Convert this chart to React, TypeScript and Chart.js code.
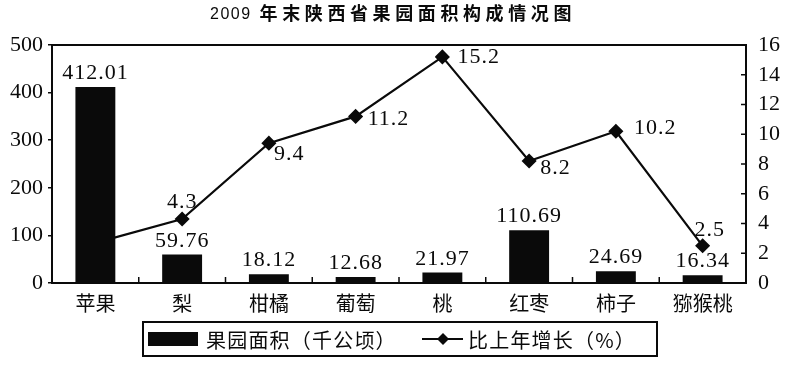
import React, { useEffect, useRef } from 'react';
import { Chart, registerables } from 'chart.js';

Chart.register(...registerables);

// ---- data ----
const titleNumber = '2009';
const titleText = '年末陕西省果园面积构成情况图';
const categories = ['苹果', '梨', '柑橘', '葡萄', '桃', '红枣', '柿子', '猕猴桃'];
const areaValues = [412.01, 59.76, 18.12, 12.68, 21.97, 110.69, 24.69, 16.34];
const areaLabels = ['412.01', '59.76', '18.12', '12.68', '21.97', '110.69', '24.69', '16.34'];
const growthValues = [2.7, 4.3, 9.4, 11.2, 15.2, 8.2, 10.2, 2.5];
const growthLabels = ['', '4.3', '9.4', '11.2', '15.2', '8.2', '10.2', '2.5'];
const legendLabels = ['果园面积（千公顷）', '比上年增长（%）'];
const leftAxis = { min: 0, max: 500, step: 100 };
const rightAxis = { min: 0, max: 16, step: 2 };

// ---- styles (label placement relative to markers) ----
const growthLabelPlacement: [number, number, CanvasTextAlign][] = [
  [0, 0, 'center'],
  [0, -17, 'center'],
  [5, 11, 'left'],
  [12, 3, 'left'],
  [15, 0, 'left'],
  [11, 7, 'left'],
  [18, -3, 'left'],
  [7, -16, 'center'],
];

const SERIF = '"Liberation Serif", "Times New Roman", serif';
const CJK = '"Noto Sans CJK SC", "Noto Sans", sans-serif';
const INK = '#0a0a0a';

const overlayPlugin = {
  id: 'overlay',
  afterDraw(chart: any) {
    const ctx: CanvasRenderingContext2D = chart.ctx;
    const area = chart.chartArea;
    const xs = chart.scales.x;
    const y1 = chart.scales.y1;
    ctx.save();

    // title
    ctx.fillStyle = INK;
    ctx.textBaseline = 'alphabetic';
    ctx.textAlign = 'left';
    (ctx as any).letterSpacing = '1.5px';
    ctx.font = '16px "Liberation Sans", sans-serif';
    const numW = ctx.measureText(titleNumber).width;
    (ctx as any).letterSpacing = '4.6px';
    ctx.font = 'bold 18px ' + CJK;
    const txtW = ctx.measureText(titleText).width;
    const gap = 8;
    const total = numW + gap + txtW;
    let tx = 393 - total / 2;
    (ctx as any).letterSpacing = '1.5px';
    ctx.font = '16px "Liberation Sans", sans-serif';
    ctx.fillText(titleNumber, tx, 19);
    tx += numW + gap;
    (ctx as any).letterSpacing = '4.6px';
    ctx.font = 'bold 18px ' + CJK;
    ctx.fillText(titleText, tx, 20);

    // frame
    ctx.strokeStyle = INK;
    ctx.lineWidth = 2;
    ctx.strokeRect(area.left, area.top, area.right - area.left, area.bottom - area.top);

    // x inner ticks at category boundaries
    ctx.lineWidth = 1.5;
    ctx.beginPath();
    for (let i = 1; i < categories.length; i++) {
      const x = (xs.getPixelForTick(i - 1) + xs.getPixelForTick(i)) / 2;
      ctx.moveTo(x, area.bottom);
      ctx.lineTo(x, area.bottom - 6);
    }
    // right axis inner ticks
    for (let v = rightAxis.min; v <= rightAxis.max; v += rightAxis.step) {
      const y = y1.getPixelForValue(v);
      ctx.moveTo(area.right, y);
      ctx.lineTo(area.right - 5, y);
    }
    ctx.stroke();

    // bar labels
    (ctx as any).letterSpacing = '1px';
    ctx.font = '22px ' + SERIF;
    ctx.textAlign = 'center';
    ctx.textBaseline = 'alphabetic';
    const barMeta = chart.getDatasetMeta(0);
    barMeta.data.forEach((el: any, i: number) => {
      ctx.fillText(areaLabels[i], el.x, el.y - 8);
    });

    // line labels
    ctx.textBaseline = 'middle';
    const lineMeta = chart.getDatasetMeta(1);
    lineMeta.data.forEach((el: any, i: number) => {
      const label = growthLabels[i];
      if (!label) return;
      const [dx, dy, align] = growthLabelPlacement[i];
      ctx.textAlign = align;
      ctx.fillText(label, el.x + dx, el.y + dy);
    });

    // legend
    const lx0 = 143, lx1 = 657, ly0 = 322, ly1 = 356;
    const ly = (ly0 + ly1) / 2;
    ctx.lineWidth = 2;
    ctx.strokeRect(lx0, ly0, lx1 - lx0, ly1 - ly0);
    ctx.fillStyle = INK;
    ctx.fillRect(148, ly - 7, 50, 14);
    (ctx as any).letterSpacing = '1.2px';
    ctx.font = '20px ' + CJK;
    ctx.textAlign = 'left';
    ctx.textBaseline = 'middle';
    ctx.fillText(legendLabels[0], 206, ly + 1);
    ctx.lineWidth = 2;
    ctx.beginPath();
    ctx.moveTo(422, ly);
    ctx.lineTo(463, ly);
    ctx.stroke();
    ctx.beginPath();
    ctx.moveTo(443, ly - 6);
    ctx.lineTo(449, ly);
    ctx.lineTo(443, ly + 6);
    ctx.lineTo(437, ly);
    ctx.closePath();
    ctx.fill();
    ctx.fillText(legendLabels[1], 468, ly + 1);

    ctx.restore();
  },
};

export default function App() {
  const ref = useRef<HTMLCanvasElement | null>(null);
  useEffect(() => {
    document.body.style.margin = '0';
    const canvas = ref.current!;
    const chart = new Chart(canvas, {
      type: 'bar',
      data: {
        labels: categories,
        datasets: [
          {
            type: 'bar',
            label: legendLabels[0],
            data: areaValues,
            backgroundColor: INK,
            borderWidth: 0,
            yAxisID: 'y',
            order: 0,
            categoryPercentage: 1,
            barPercentage: 0.46,
          } as any,
          {
            type: 'line',
            label: legendLabels[1],
            data: growthValues,
            borderColor: INK,
            backgroundColor: INK,
            borderWidth: 2.2,
            pointStyle: 'rectRot',
            pointRadius: growthValues.map((_, i) => (i === 0 ? 0 : 6)),
            pointHoverRadius: 6,
            yAxisID: 'y1',
            order: 1,
            tension: 0,
          } as any,
        ],
      },
      options: {
        responsive: false,
        animation: false,
        devicePixelRatio: 1,
        layout: { padding: { top: 45, left: 0, right: 0, bottom: 0 } },
        plugins: {
          legend: { display: false },
          title: { display: false },
          tooltip: { enabled: false },
        },
        scales: {
          x: {
            grid: { display: false, drawTicks: false },
            border: { display: false },
            ticks: {
              color: INK,
              font: { family: CJK, size: 20 },
              padding: 8,
              maxRotation: 0,
              autoSkip: false,
            },
            afterFit: (s: any) => { s.height = 86; },
          },
          y: {
            position: 'left',
            min: leftAxis.min,
            max: leftAxis.max,
            grid: { drawOnChartArea: false, drawTicks: true, tickLength: 4, color: INK, lineWidth: 1.5 },
            border: { display: false },
            ticks: {
              stepSize: leftAxis.step,
              color: INK,
              font: { family: SERIF, size: 22 },
              padding: 5,
            },
            afterFit: (s: any) => { s.width = 52; },
          },
          y1: {
            position: 'right',
            min: rightAxis.min,
            max: rightAxis.max,
            grid: { display: false, drawTicks: false },
            border: { display: false },
            ticks: {
              stepSize: rightAxis.step,
              color: INK,
              font: { family: SERIF, size: 22 },
              padding: 12,
            },
            afterFit: (s: any) => { s.width = 43; },
          },
        },
      },
      plugins: [overlayPlugin],
    });
    return () => chart.destroy();
  }, []);
  return <canvas ref={ref} width={789} height={369} style={{ display: 'block' }} />;
}
